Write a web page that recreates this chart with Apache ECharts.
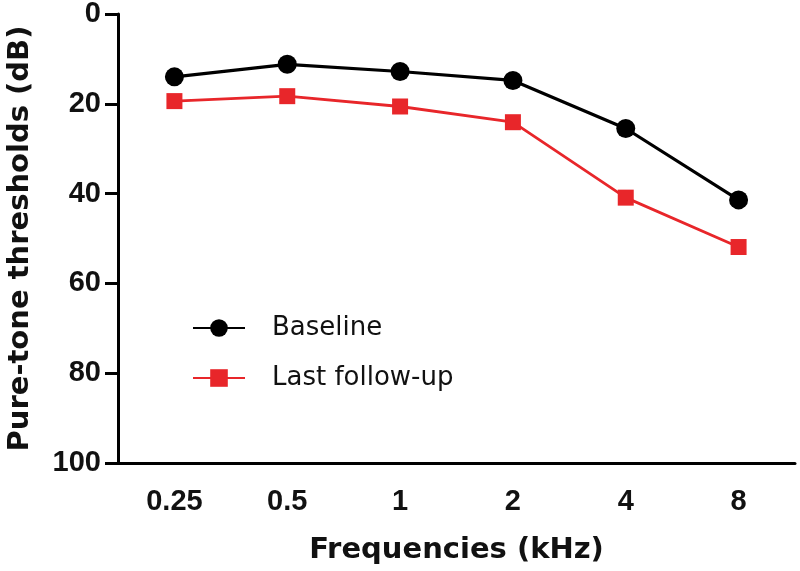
<!DOCTYPE html>
<html><head><meta charset="utf-8">
<script src="https://cdn.jsdelivr.net/npm/echarts@6/dist/echarts.min.js"></script>
<style>html,body{margin:0;padding:0;background:#fff}#c{width:800px;height:571px}</style>
</head><body><div id="c"></div>
<script>
var categories = ['0.25', '0.5', '1', '2', '4', '8'];
var baseline = [14.0, 11.2, 12.8, 14.8, 25.5, 41.4];
var lastFollowUp = [19.4, 18.3, 20.6, 24.1, 40.9, 51.9];
var yTicks = [0, 20, 40, 60, 80, 100];

var tickFont = '"Liberation Sans", Arial, sans-serif';
var wideFont = '"DejaVu Sans", "Liberation Sans", sans-serif';
var chart = echarts.init(document.getElementById('c'), null, {renderer: 'canvas'});
chart.setOption({
  animation: false,
  grid: {left: 118, top: 14, right: 5, bottom: 108, containLabel: false, outerBoundsMode: 'none'},
  legend: {
    left: 187, top: 310, orient: 'vertical', itemGap: 24,
    itemWidth: 52, itemHeight: 22,
    textStyle: {fontFamily: wideFont, fontSize: 26, color: '#111', padding: [0, 0, 0, 22]},
    data: ['Baseline', 'Last follow-up']
  },
  xAxis: {
    type: 'category', data: categories, boundaryGap: true,
    name: 'Frequencies (kHz)', nameLocation: 'middle', nameGap: 73,
    nameTextStyle: {fontFamily: wideFont, fontSize: 29, fontWeight: 'bold', color: '#111'},
    axisLine: {onZero: false, lineStyle: {color: '#000', width: 3}},
    axisTick: {alignWithLabel: true, length: 9, lineStyle: {color: '#000', width: 3}},
    axisLabel: {fontFamily: tickFont, fontSize: 29, fontWeight: 'bold', color: '#111', margin: 24}
  },
  yAxis: {
    type: 'value', inverse: true, min: yTicks[0], max: yTicks[yTicks.length - 1], interval: 20,
    name: 'Pure-tone thresholds (dB)', nameLocation: 'middle', nameGap: 83, nameRotate: 90,
    nameTextStyle: {fontFamily: wideFont, fontSize: 29, fontWeight: 'bold', color: '#111'},
    axisLine: {show: true, onZero: false, lineStyle: {color: '#000', width: 3}},
    axisTick: {show: true, length: 13, lineStyle: {color: '#000', width: 3}},
    splitLine: {show: false},
    axisLabel: {fontFamily: tickFont, fontSize: 29, fontWeight: 'bold', color: '#111', margin: 17}
  },
  series: [
    {name: 'Baseline', type: 'line', data: baseline, symbol: 'circle', symbolSize: 19,
     lineStyle: {color: '#000', width: 3.2}, itemStyle: {color: '#000'}},
    {name: 'Last follow-up', type: 'line', data: lastFollowUp, symbol: 'rect', symbolSize: 16,
     lineStyle: {color: '#e8262a', width: 2.8}, itemStyle: {color: '#e8262a'}}
  ]
});
</script></body></html>
